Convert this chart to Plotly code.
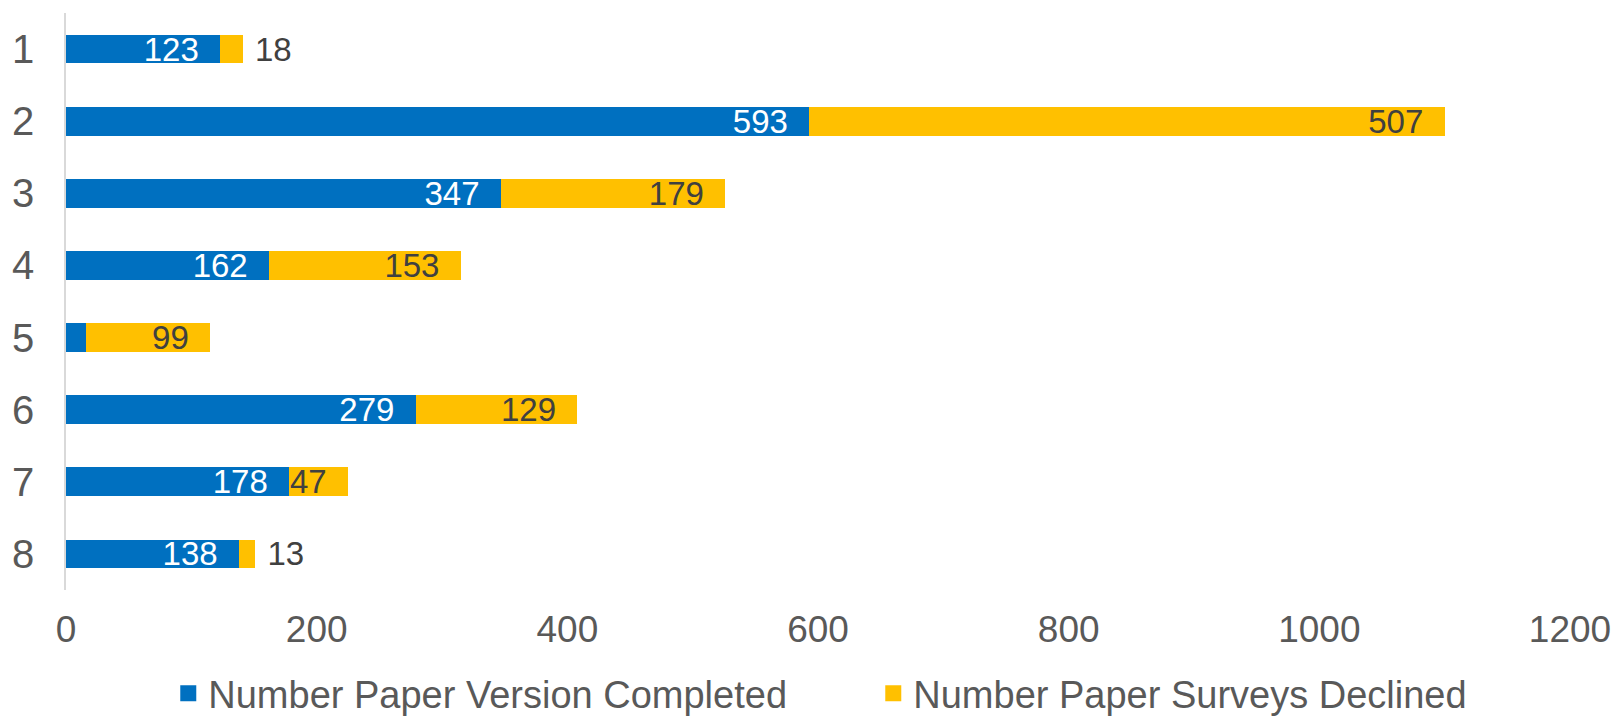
import plotly.graph_objects as go

# Survey rows, top to bottom
rows = ["1", "2", "3", "4", "5", "6", "7", "8"]
completed = [123, 593, 347, 162, 16, 279, 178, 138]
declined = [18, 507, 179, 153, 99, 129, 47, 13]
completed_shown = [True, True, True, True, False, True, True, True]
x_ticks = [0, 200, 400, 600, 800, 1000, 1200]

BLUE = "#0070C0"
GOLD = "#FFC000"
GREY_TEXT = "#595959"
DARK_TEXT = "#404040"
FONT = "Liberation Sans, Arial, sans-serif"
PAD = "\u00a0\u00a0"

# Labels sit just inside the end of each segment; tiny segments get theirs outside
completed_text = [f"{v}{PAD}" if show else "" for v, show in zip(completed, completed_shown)]
declined_pos = ["outside" if v < 30 else "inside" for v in declined]
declined_text = [f"\u00a0{v}" if v < 30 else f"{v}{PAD}" for v in declined]

fig = go.Figure()
fig.add_trace(go.Bar(
    name="Number Paper Version Completed",
    y=rows, x=completed, orientation="h",
    marker=dict(color=BLUE, line=dict(width=0)),
    text=completed_text, textposition="inside", insidetextanchor="end",
    insidetextfont=dict(color="white", size=33, family=FONT),
    constraintext="none", cliponaxis=False, showlegend=False,
))
fig.add_trace(go.Bar(
    name="Number Paper Surveys Declined",
    y=rows, x=declined, orientation="h",
    marker=dict(color=GOLD, line=dict(width=0)),
    text=declined_text, textposition=declined_pos, insidetextanchor="end",
    insidetextfont=dict(color=DARK_TEXT, size=33, family=FONT),
    outsidetextfont=dict(color=DARK_TEXT, size=33, family=FONT),
    constraintext="none", cliponaxis=False, showlegend=False,
))

# Legend entries with square swatches
for name, color in [("Number Paper Version Completed", BLUE),
                    ("Number Paper Surveys Declined", GOLD)]:
    fig.add_trace(go.Scatter(
        x=[None], y=[None], mode="markers", name=name,
        marker=dict(symbol="square", size=21, color=color),
    ))

fig.update_layout(
    width=1618, height=718,
    margin=dict(l=66, r=48, t=13, b=128),
    barmode="stack", bargap=0.6,
    plot_bgcolor="white", paper_bgcolor="white",
    font=dict(family=FONT, color=GREY_TEXT),
    xaxis=dict(
        range=[0, 1200], tickvals=x_ticks, ticktext=[str(t) for t in x_ticks],
        showgrid=False, zeroline=False, showline=False, ticks="",
        tickfont=dict(size=37, color=GREY_TEXT, family=FONT),
        ticklabelstandoff=14, automargin=False,
    ),
    yaxis=dict(
        type="category", categoryorder="array", categoryarray=rows,
        autorange="reversed", showgrid=False, zeroline=False,
        showline=True, linecolor="#D9D9D9", linewidth=1.5, ticks="",
        tickfont=dict(size=40, color=GREY_TEXT, family=FONT),
        ticklabelstandoff=22, automargin=False,
    ),
    legend=dict(
        orientation="h", traceorder="normal",
        x=0.068, xanchor="left", xref="paper",
        y=0.034, yanchor="middle", yref="container",
        font=dict(size=38, color=GREY_TEXT, family=FONT),
        bgcolor="rgba(0,0,0,0)", entrywidth=660, entrywidthmode="pixels",
    ),
)

fig.write_html("out.html")
